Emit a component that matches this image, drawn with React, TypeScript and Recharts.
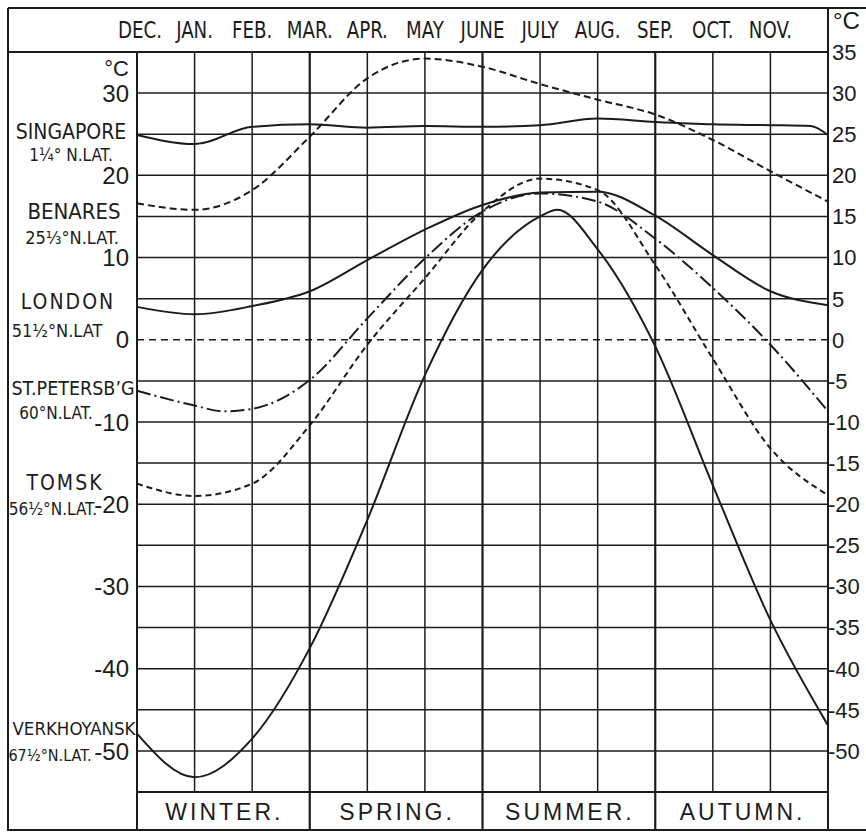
import { LineChart, Line, XAxis, YAxis, ReferenceLine, ReferenceDot } from 'recharts';

// months start at December, index 0 .. 12 (December again)
const months = ['DEC.', 'JAN.', 'FEB.', 'MAR.', 'APR.', 'MAY', 'JUNE', 'JULY', 'AUG.', 'SEP.', 'OCT.', 'NOV.'];
const seasons = ['WINTER.', 'SPRING.', 'SUMMER.', 'AUTUMN.'];
const leftTicks = [30, 20, 10, 0, -10, -20, -30, -40, -50];
const rightTicks = [35, 30, 25, 20, 15, 10, 5, 0, -5, -10, -15, -20, -25, -30, -35, -40, -45, -50];
const gridTemps = [30, 25, 20, 15, 10, 5, -5, -10, -15, -20, -25, -30, -35, -40, -45, -50];

// [month index, °C]
const singapore = [[0, 24.9], [1, 23.8], [2, 25.9], [3, 26.2], [4, 25.8], [5, 26.0], [6, 25.9], [7, 26.1], [8, 26.9], [9, 26.5], [10, 26.2], [11, 26.1], [11.7, 26.0], [12, 24.9]];
const benares = [[0, 16.6], [1, 15.8], [2, 18.2], [3, 24.7], [4, 31.8], [5, 34.2], [6, 33.2], [7, 31.1], [8, 29.2], [9, 27.4], [10, 24.3], [11, 20.5], [12, 16.8]];
const london = [[0, 4.0], [1, 3.1], [2, 4.1], [3, 5.9], [4, 9.7], [5, 13.4], [6, 16.4], [7, 17.9], [8, 18.0], [9, 15.1], [10, 10.3], [11, 5.9], [12, 4.2]];
const stPetersburg = [[0, -6.2], [1, -8.0], [1.5, -8.7], [2, -8.4], [3, -4.9], [4, 2.6], [5, 9.9], [6, 15.6], [7, 17.8], [8, 16.8], [9, 12.3], [10, 6.3], [11, -0.6], [12, -8.7]];
const tomsk = [[0, -17.5], [1, -19.0], [2, -17.5], [3, -10.4], [4, -0.6], [5, 7.5], [6, 15.6], [7, 19.6], [8, 18.2], [9, 9.1], [10, -2.3], [11, -13.2], [12, -18.9]];
const verkhoyansk = [[0, -47.9], [1, -53.2], [2, -48.5], [3, -37.5], [4, -21.9], [5, -4.3], [6, 8.5], [7, 15.0], [7.3, 15.8], [8, 11.0], [9, -0.8], [10, -17.7], [11, -34.1], [12, -46.9]];

const ink = '#1c1c1c';
const narrow = '"Liberation Sans Narrow", "DejaVu Sans Condensed", sans-serif';
const sans = '"Liberation Sans", Arial, sans-serif';

// both axis pairs share the same domains, so half the curves sit on each pair
const series = [
  { key: 'singapore', pts: singapore, dash: undefined, xa: 'm', ya: 'l' },
  { key: 'benares', pts: benares, dash: '7 4', xa: 'm', ya: 'l' },
  { key: 'london', pts: london, dash: undefined, xa: 'm', ya: 'l' },
  { key: 'stp', pts: stPetersburg, dash: '14 4 2 4', xa: 's', ya: 'r' },
  { key: 'tomsk', pts: tomsk, dash: '6 4', xa: 's', ya: 'r' },
  { key: 'verkhoyansk', pts: verkhoyansk, dash: undefined, xa: 's', ya: 'r' },
];

const MonthTick = (props: any) => {
  const { x, y, payload } = props;
  const tx = x + (payload.value === 0 ? 3 : 0);
  return (
    <text transform={`translate(${tx},${y}) scale(0.88,1)`} textAnchor="middle" fontFamily={narrow} fontSize={23} fill={ink}>
      {months[payload.value]}
    </text>
  );
};

const SeasonTick = (props: any) => {
  const { x, y, payload } = props;
  if (Number.isInteger(payload.value)) {
    return <line x1={x} x2={x} y1={y} y2={y + 39} stroke={ink} strokeWidth={2.2} />;
  }
  return (
    <text x={x + 1} y={y + 20} dy="0.36em" textAnchor="middle" fontFamily={sans} fontSize={23} letterSpacing={3} fill={ink}>
      {seasons[Math.floor(payload.value / 3)]}
    </text>
  );
};

const LeftTick = (props: any) => {
  const { x, y, payload } = props;
  return (
    <text x={x} y={y} dy="0.36em" textAnchor="end" fontFamily={sans} fontSize={24} fill={ink}>
      {payload.value}
    </text>
  );
};

const RightTick = (props: any) => {
  const { x, y, payload } = props;
  const neg = payload.value < 0;
  return (
    <text x={neg ? x - 4 : x} y={y} dy="0.36em" textAnchor="start" fontFamily={sans} fontSize={22} fill={ink}>
      {neg ? '-' + Math.abs(payload.value) : payload.value}
    </text>
  );
};

// text note anchored to the left edge of the plot at a temperature
const note = (t: number, text: string, dx: number, size: number, opts: any = {}) => (
  <ReferenceDot
    key={text + t}
    xAxisId="m"
    yAxisId="l"
    x={opts.atX ?? 0}
    y={t}
    r={0}
    ifOverflow="visible"
    shape={(p: any) => (
      <text
        x={p.cx + dx}
        y={p.cy}
        dy="0.36em"
        textAnchor={opts.anchor ?? 'middle'}
        fontFamily={opts.font ?? narrow}
        fontSize={size}
        letterSpacing={opts.spacing ?? 0}
        fill={ink}
      >
        {text}
      </text>
    )}
  />
);

export default function App() {
  return (
    <div style={{ position: 'relative', width: 866, height: 833, overflow: 'hidden', background: '#fff' }}>
      <style>{'body{margin:0}'}</style>
      <LineChart width={866} height={833} margin={{ top: 0, right: 0, bottom: 0, left: 0 }}>
        <XAxis xAxisId="m" orientation="top" type="number" dataKey="m" domain={[0, 12]} ticks={[0, 1, 2, 3, 4, 5, 6, 7, 8, 9, 10, 11]}
          interval={0} height={52} axisLine={false} tickLine={false} tickSize={0} tickMargin={14} tick={<MonthTick />} />
        <XAxis xAxisId="s" orientation="bottom" type="number" dataKey="m" domain={[0, 12]} ticks={[1.5, 3, 4.5, 6, 7.5, 9, 10.5]}
          interval={0} height={41} axisLine={false} tickLine={false} tickSize={0} tickMargin={0} tick={<SeasonTick />} />
        <YAxis yAxisId="l" orientation="left" type="number" domain={[-55, 35]} ticks={leftTicks} interval={0}
          width={137} axisLine={false} tickLine={false} tickSize={0} tickMargin={8} tick={<LeftTick />} />
        <YAxis yAxisId="r" orientation="right" type="number" domain={[-55, 35]} ticks={rightTicks} interval={0}
          width={38} axisLine={false} tickLine={false} tickSize={0} tickMargin={4} tick={<RightTick />} />

        {gridTemps.map((t) => (
          <ReferenceLine key={'h' + t} xAxisId="m" yAxisId="l" y={t} stroke={ink} strokeWidth={1.5} />
        ))}
        <ReferenceLine xAxisId="m" yAxisId="l" y={0} stroke={ink} strokeWidth={1.5} strokeDasharray="7 5" />
        {[1, 2, 3, 4, 5, 6, 7, 8, 9, 10, 11].map((m) => (
          <ReferenceLine key={'v' + m} xAxisId="m" yAxisId="l" x={m} stroke={ink} strokeWidth={m % 3 === 0 ? 2.2 : 1.5} />
        ))}

        {series.map((s) => (
          <Line
            key={s.key}
            xAxisId={s.xa}
            yAxisId={s.ya}
            data={s.pts.map(([m, v]) => ({ m, v }))}
            dataKey="v"
            type="monotone"
            stroke={ink}
            strokeWidth={2}
            strokeDasharray={s.dash}
            dot={false}
            activeDot={false}
            isAnimationActive={false}
          />
        ))}

        {note(33.1, '°C', -8, 22, { anchor: 'end', font: sans })}
        {note(25.3, 'SINGAPORE', -66, 21)}
        {note(22.5, '1¼° N.LAT.', -66, 17)}
        {note(15.7, 'BENARES', -63, 22)}
        {note(12.4, '25⅓°N.LAT.', -65, 18)}
        {note(4.7, 'LONDON', -69, 21, { spacing: 2 })}
        {note(1.1, '51½°N.LAT', -80, 18)}
        {note(-5.9, 'ST.PETERSB’G', -64, 19.5)}
        {note(-8.9, '60°N.LAT.', -81, 17)}
        {note(-17.4, 'TOMSK', -72, 21, { spacing: 2 })}
        {note(-20.6, '56½°N.LAT.', -84, 17)}
        {note(-47.3, 'VERKHOYANSK', -63, 18.5)}
        {note(-50.5, '67½°N.LAT.', -87, 16)}
        {note(38.8, '°C', 5, 24, { anchor: 'start', font: sans, atX: 12 })}
      </LineChart>

      <svg width={866} height={833} style={{ position: 'absolute', left: 0, top: 0, pointerEvents: 'none' }}>
        <g stroke={ink} strokeWidth={2}>
          <line x1={8} x2={866} y1={8} y2={8} />
          <line x1={8} x2={8} y1={8} y2={831} />
          <line x1={8} x2={866} y1={830} y2={830} />
          <line x1={8} x2={828} y1={52} y2={52} />
          <line x1={828} x2={828} y1={8} y2={831} />
          <line x1={137} x2={137} y1={52} y2={831} />
          <line x1={137} x2={828} y1={792} y2={792} />
        </g>
      </svg>
    </div>
  );
}
